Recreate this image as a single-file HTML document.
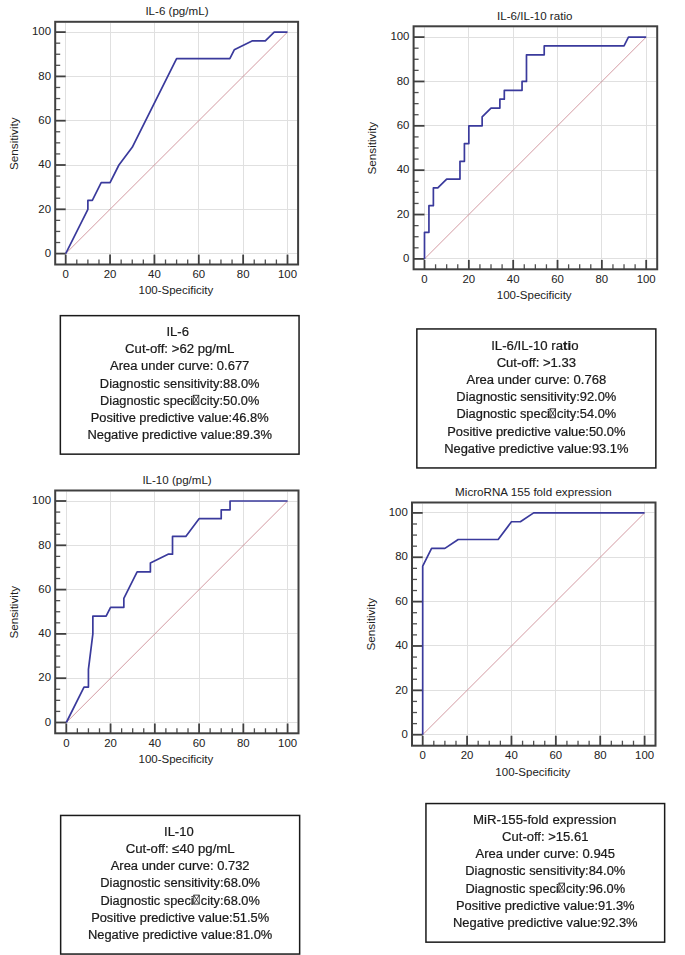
<!DOCTYPE html>
<html><head><meta charset="utf-8"><title>ROC curves</title>
<style>
html,body{margin:0;padding:0;background:#fff;}
body{width:685px;height:955px;overflow:hidden;}
svg{display:block;}
body{position:relative;}
.ov{position:absolute;left:0;top:0;will-change:transform;}
text{font-family:"Liberation Sans", sans-serif;}
.gr{stroke:#e0e0e0;stroke-width:1;}
.dg{stroke:#c8808a;stroke-width:0.8;}
.tk{stroke:#404040;stroke-width:1.8;}
.tm{stroke:#505050;stroke-width:1.3;}
.fr{fill:none;stroke:#404040;stroke-width:2;}
.cv{fill:none;stroke:#3a3a9c;stroke-width:1.7;stroke-linejoin:round;}
.tl{font-size:11.4px;fill:#222;}
.at{font-size:11.7px;fill:#222;}
.bx{fill:none;stroke:#1a1a1a;stroke-width:1.5;}
.bt{font-size:12.5px;fill:#1a1a1a;stroke:#1a1a1a;stroke-width:0.22px;}
.ph{fill:none;stroke:none;}
.gb{fill:none;stroke:#222;stroke-width:0.85;}
</style></head>
<body>
<svg width="685" height="955" viewBox="0 0 685 955">
<rect width="685" height="955" fill="#fff"/>
<g>
<line x1="65.5" y1="22.8" x2="65.5" y2="263.5" class="gr"/>
<line x1="56.2" y1="253.5" x2="297.1" y2="253.5" class="gr"/>
<line x1="110.5" y1="22.8" x2="110.5" y2="263.5" class="gr"/>
<line x1="56.2" y1="209.5" x2="297.1" y2="209.5" class="gr"/>
<line x1="154.5" y1="22.8" x2="154.5" y2="263.5" class="gr"/>
<line x1="56.2" y1="165.5" x2="297.1" y2="165.5" class="gr"/>
<line x1="198.5" y1="22.8" x2="198.5" y2="263.5" class="gr"/>
<line x1="56.2" y1="120.5" x2="297.1" y2="120.5" class="gr"/>
<line x1="243.5" y1="22.8" x2="243.5" y2="263.5" class="gr"/>
<line x1="56.2" y1="76.5" x2="297.1" y2="76.5" class="gr"/>
<line x1="287.5" y1="22.8" x2="287.5" y2="263.5" class="gr"/>
<line x1="56.2" y1="32.5" x2="297.1" y2="32.5" class="gr"/>
<line x1="65.7" y1="253.6" x2="287.5" y2="32.1" class="dg"/>
<line x1="55.2" y1="253.6" x2="65.7" y2="253.6" class="tk"/>
<line x1="65.7" y1="264.5" x2="65.7" y2="254.6" class="tk"/>
<line x1="55.2" y1="242.53" x2="60.2" y2="242.53" class="tm"/>
<line x1="76.79" y1="264.5" x2="76.79" y2="259.5" class="tm"/>
<line x1="55.2" y1="231.45" x2="60.2" y2="231.45" class="tm"/>
<line x1="87.88" y1="264.5" x2="87.88" y2="259.5" class="tm"/>
<line x1="55.2" y1="220.38" x2="60.2" y2="220.38" class="tm"/>
<line x1="98.97" y1="264.5" x2="98.97" y2="259.5" class="tm"/>
<line x1="55.2" y1="209.3" x2="65.7" y2="209.3" class="tk"/>
<line x1="110.06" y1="264.5" x2="110.06" y2="254.6" class="tk"/>
<line x1="55.2" y1="198.22" x2="60.2" y2="198.22" class="tm"/>
<line x1="121.15" y1="264.5" x2="121.15" y2="259.5" class="tm"/>
<line x1="55.2" y1="187.15" x2="60.2" y2="187.15" class="tm"/>
<line x1="132.24" y1="264.5" x2="132.24" y2="259.5" class="tm"/>
<line x1="55.2" y1="176.07" x2="60.2" y2="176.07" class="tm"/>
<line x1="143.33" y1="264.5" x2="143.33" y2="259.5" class="tm"/>
<line x1="55.2" y1="165" x2="65.7" y2="165" class="tk"/>
<line x1="154.42" y1="264.5" x2="154.42" y2="254.6" class="tk"/>
<line x1="55.2" y1="153.93" x2="60.2" y2="153.93" class="tm"/>
<line x1="165.51" y1="264.5" x2="165.51" y2="259.5" class="tm"/>
<line x1="55.2" y1="142.85" x2="60.2" y2="142.85" class="tm"/>
<line x1="176.6" y1="264.5" x2="176.6" y2="259.5" class="tm"/>
<line x1="55.2" y1="131.77" x2="60.2" y2="131.77" class="tm"/>
<line x1="187.69" y1="264.5" x2="187.69" y2="259.5" class="tm"/>
<line x1="55.2" y1="120.7" x2="65.7" y2="120.7" class="tk"/>
<line x1="198.78" y1="264.5" x2="198.78" y2="254.6" class="tk"/>
<line x1="55.2" y1="109.62" x2="60.2" y2="109.62" class="tm"/>
<line x1="209.87" y1="264.5" x2="209.87" y2="259.5" class="tm"/>
<line x1="55.2" y1="98.55" x2="60.2" y2="98.55" class="tm"/>
<line x1="220.96" y1="264.5" x2="220.96" y2="259.5" class="tm"/>
<line x1="55.2" y1="87.47" x2="60.2" y2="87.47" class="tm"/>
<line x1="232.05" y1="264.5" x2="232.05" y2="259.5" class="tm"/>
<line x1="55.2" y1="76.4" x2="65.7" y2="76.4" class="tk"/>
<line x1="243.14" y1="264.5" x2="243.14" y2="254.6" class="tk"/>
<line x1="55.2" y1="65.32" x2="60.2" y2="65.32" class="tm"/>
<line x1="254.23" y1="264.5" x2="254.23" y2="259.5" class="tm"/>
<line x1="55.2" y1="54.25" x2="60.2" y2="54.25" class="tm"/>
<line x1="265.32" y1="264.5" x2="265.32" y2="259.5" class="tm"/>
<line x1="55.2" y1="43.17" x2="60.2" y2="43.17" class="tm"/>
<line x1="276.41" y1="264.5" x2="276.41" y2="259.5" class="tm"/>
<line x1="55.2" y1="32.1" x2="65.7" y2="32.1" class="tk"/>
<line x1="287.5" y1="264.5" x2="287.5" y2="254.6" class="tk"/>
<rect x="55.2" y="21.8" width="242.9" height="242.7" class="fr"/>
<polyline points="65.7,253.6 87.88,209.3 87.88,200.44 92.32,200.44 101.19,182.72 110.06,182.72 118.93,165 132.24,147.28 176.6,58.68 229.83,58.68 234.27,49.82 252.01,40.96 265.32,40.96 274.19,32.1 287.5,32.1" class="cv"/>
<text x="51" y="256.8" text-anchor="end" class="tl">0</text>
<text x="65.7" y="277.9" text-anchor="middle" class="tl">0</text>
<text x="51" y="212.5" text-anchor="end" class="tl">20</text>
<text x="110.06" y="277.9" text-anchor="middle" class="tl">20</text>
<text x="51" y="168.2" text-anchor="end" class="tl">40</text>
<text x="154.42" y="277.9" text-anchor="middle" class="tl">40</text>
<text x="51" y="123.9" text-anchor="end" class="tl">60</text>
<text x="198.78" y="277.9" text-anchor="middle" class="tl">60</text>
<text x="51" y="79.6" text-anchor="end" class="tl">80</text>
<text x="243.14" y="277.9" text-anchor="middle" class="tl">80</text>
<text x="51" y="35.3" text-anchor="end" class="tl">100</text>
<text x="287.5" y="277.9" text-anchor="middle" class="tl">100</text>
<text x="175.9" y="294.4" text-anchor="middle" textLength="74.8" lengthAdjust="spacingAndGlyphs" class="at">100-Specificity</text>
<text transform="translate(17.9,143.65) rotate(-90)" x="0" y="0" text-anchor="middle" textLength="52.6" lengthAdjust="spacingAndGlyphs" class="at">Sensitivity</text>
<text x="176.95" y="15" text-anchor="middle" textLength="63.1" lengthAdjust="spacingAndGlyphs" class="at">IL-6 (pg/mL)</text>
</g>
<g>
<line x1="424.5" y1="27.3" x2="424.5" y2="268.3" class="gr"/>
<line x1="414.6" y1="258.5" x2="656.2" y2="258.5" class="gr"/>
<line x1="468.5" y1="27.3" x2="468.5" y2="268.3" class="gr"/>
<line x1="414.6" y1="214.5" x2="656.2" y2="214.5" class="gr"/>
<line x1="513.5" y1="27.3" x2="513.5" y2="268.3" class="gr"/>
<line x1="414.6" y1="170.5" x2="656.2" y2="170.5" class="gr"/>
<line x1="557.5" y1="27.3" x2="557.5" y2="268.3" class="gr"/>
<line x1="414.6" y1="125.5" x2="656.2" y2="125.5" class="gr"/>
<line x1="601.5" y1="27.3" x2="601.5" y2="268.3" class="gr"/>
<line x1="414.6" y1="81.5" x2="656.2" y2="81.5" class="gr"/>
<line x1="646.5" y1="27.3" x2="646.5" y2="268.3" class="gr"/>
<line x1="414.6" y1="37.5" x2="656.2" y2="37.5" class="gr"/>
<line x1="424.5" y1="258.9" x2="646.2" y2="37.1" class="dg"/>
<line x1="413.6" y1="258.9" x2="424.5" y2="258.9" class="tk"/>
<line x1="424.5" y1="269.3" x2="424.5" y2="259.9" class="tk"/>
<line x1="413.6" y1="247.81" x2="418.6" y2="247.81" class="tm"/>
<line x1="435.58" y1="269.3" x2="435.58" y2="264.3" class="tm"/>
<line x1="413.6" y1="236.72" x2="418.6" y2="236.72" class="tm"/>
<line x1="446.67" y1="269.3" x2="446.67" y2="264.3" class="tm"/>
<line x1="413.6" y1="225.63" x2="418.6" y2="225.63" class="tm"/>
<line x1="457.75" y1="269.3" x2="457.75" y2="264.3" class="tm"/>
<line x1="413.6" y1="214.54" x2="424.5" y2="214.54" class="tk"/>
<line x1="468.84" y1="269.3" x2="468.84" y2="259.9" class="tk"/>
<line x1="413.6" y1="203.45" x2="418.6" y2="203.45" class="tm"/>
<line x1="479.93" y1="269.3" x2="479.93" y2="264.3" class="tm"/>
<line x1="413.6" y1="192.36" x2="418.6" y2="192.36" class="tm"/>
<line x1="491.01" y1="269.3" x2="491.01" y2="264.3" class="tm"/>
<line x1="413.6" y1="181.27" x2="418.6" y2="181.27" class="tm"/>
<line x1="502.1" y1="269.3" x2="502.1" y2="264.3" class="tm"/>
<line x1="413.6" y1="170.18" x2="424.5" y2="170.18" class="tk"/>
<line x1="513.18" y1="269.3" x2="513.18" y2="259.9" class="tk"/>
<line x1="413.6" y1="159.09" x2="418.6" y2="159.09" class="tm"/>
<line x1="524.26" y1="269.3" x2="524.26" y2="264.3" class="tm"/>
<line x1="413.6" y1="148" x2="418.6" y2="148" class="tm"/>
<line x1="535.35" y1="269.3" x2="535.35" y2="264.3" class="tm"/>
<line x1="413.6" y1="136.91" x2="418.6" y2="136.91" class="tm"/>
<line x1="546.44" y1="269.3" x2="546.44" y2="264.3" class="tm"/>
<line x1="413.6" y1="125.82" x2="424.5" y2="125.82" class="tk"/>
<line x1="557.52" y1="269.3" x2="557.52" y2="259.9" class="tk"/>
<line x1="413.6" y1="114.73" x2="418.6" y2="114.73" class="tm"/>
<line x1="568.61" y1="269.3" x2="568.61" y2="264.3" class="tm"/>
<line x1="413.6" y1="103.64" x2="418.6" y2="103.64" class="tm"/>
<line x1="579.69" y1="269.3" x2="579.69" y2="264.3" class="tm"/>
<line x1="413.6" y1="92.55" x2="418.6" y2="92.55" class="tm"/>
<line x1="590.78" y1="269.3" x2="590.78" y2="264.3" class="tm"/>
<line x1="413.6" y1="81.46" x2="424.5" y2="81.46" class="tk"/>
<line x1="601.86" y1="269.3" x2="601.86" y2="259.9" class="tk"/>
<line x1="413.6" y1="70.37" x2="418.6" y2="70.37" class="tm"/>
<line x1="612.95" y1="269.3" x2="612.95" y2="264.3" class="tm"/>
<line x1="413.6" y1="59.28" x2="418.6" y2="59.28" class="tm"/>
<line x1="624.03" y1="269.3" x2="624.03" y2="264.3" class="tm"/>
<line x1="413.6" y1="48.19" x2="418.6" y2="48.19" class="tm"/>
<line x1="635.12" y1="269.3" x2="635.12" y2="264.3" class="tm"/>
<line x1="413.6" y1="37.1" x2="424.5" y2="37.1" class="tk"/>
<line x1="646.2" y1="269.3" x2="646.2" y2="259.9" class="tk"/>
<rect x="413.6" y="26.3" width="243.6" height="243" class="fr"/>
<polyline points="424.5,258.9 424.5,232.28 428.93,232.28 428.93,205.67 433.37,205.67 433.37,187.92 437.8,187.92 446.67,179.05 459.97,179.05 459.97,161.31 464.41,161.31 464.41,143.56 468.84,143.56 468.84,125.82 482.14,125.82 482.14,116.95 491.01,108.08 499.88,108.08 499.88,99.2 504.31,99.2 504.31,90.33 522.05,90.33 522.05,81.46 526.48,81.46 526.48,54.84 544.22,54.84 544.22,45.97 624.03,45.97 628.46,37.1 646.2,37.1" class="cv"/>
<text x="409.4" y="262.1" text-anchor="end" class="tl">0</text>
<text x="424.5" y="282.7" text-anchor="middle" class="tl">0</text>
<text x="409.4" y="217.74" text-anchor="end" class="tl">20</text>
<text x="468.84" y="282.7" text-anchor="middle" class="tl">20</text>
<text x="409.4" y="173.38" text-anchor="end" class="tl">40</text>
<text x="513.18" y="282.7" text-anchor="middle" class="tl">40</text>
<text x="409.4" y="129.02" text-anchor="end" class="tl">60</text>
<text x="557.52" y="282.7" text-anchor="middle" class="tl">60</text>
<text x="409.4" y="84.66" text-anchor="end" class="tl">80</text>
<text x="601.86" y="282.7" text-anchor="middle" class="tl">80</text>
<text x="409.4" y="40.3" text-anchor="end" class="tl">100</text>
<text x="646.2" y="282.7" text-anchor="middle" class="tl">100</text>
<text x="534.2" y="299.2" text-anchor="middle" textLength="74.8" lengthAdjust="spacingAndGlyphs" class="at">100-Specificity</text>
<text transform="translate(376.3,148.15) rotate(-90)" x="0" y="0" text-anchor="middle" textLength="52.6" lengthAdjust="spacingAndGlyphs" class="at">Sensitivity</text>
<text x="534.75" y="19.5" text-anchor="middle" textLength="75.3" lengthAdjust="spacingAndGlyphs" class="at">IL-6/IL-10 ratio</text>
</g>
<g>
<line x1="66.5" y1="491.5" x2="66.5" y2="732.3" class="gr"/>
<line x1="56.2" y1="722.5" x2="297.5" y2="722.5" class="gr"/>
<line x1="110.5" y1="491.5" x2="110.5" y2="732.3" class="gr"/>
<line x1="56.2" y1="678.5" x2="297.5" y2="678.5" class="gr"/>
<line x1="154.5" y1="491.5" x2="154.5" y2="732.3" class="gr"/>
<line x1="56.2" y1="633.5" x2="297.5" y2="633.5" class="gr"/>
<line x1="199.5" y1="491.5" x2="199.5" y2="732.3" class="gr"/>
<line x1="56.2" y1="589.5" x2="297.5" y2="589.5" class="gr"/>
<line x1="243.5" y1="491.5" x2="243.5" y2="732.3" class="gr"/>
<line x1="56.2" y1="545.5" x2="297.5" y2="545.5" class="gr"/>
<line x1="287.5" y1="491.5" x2="287.5" y2="732.3" class="gr"/>
<line x1="56.2" y1="501.5" x2="297.5" y2="501.5" class="gr"/>
<line x1="66.3" y1="722.5" x2="287.6" y2="501" class="dg"/>
<line x1="55.2" y1="722.5" x2="66.3" y2="722.5" class="tk"/>
<line x1="66.3" y1="733.3" x2="66.3" y2="723.5" class="tk"/>
<line x1="55.2" y1="711.42" x2="60.2" y2="711.42" class="tm"/>
<line x1="77.36" y1="733.3" x2="77.36" y2="728.3" class="tm"/>
<line x1="55.2" y1="700.35" x2="60.2" y2="700.35" class="tm"/>
<line x1="88.43" y1="733.3" x2="88.43" y2="728.3" class="tm"/>
<line x1="55.2" y1="689.27" x2="60.2" y2="689.27" class="tm"/>
<line x1="99.5" y1="733.3" x2="99.5" y2="728.3" class="tm"/>
<line x1="55.2" y1="678.2" x2="66.3" y2="678.2" class="tk"/>
<line x1="110.56" y1="733.3" x2="110.56" y2="723.5" class="tk"/>
<line x1="55.2" y1="667.12" x2="60.2" y2="667.12" class="tm"/>
<line x1="121.62" y1="733.3" x2="121.62" y2="728.3" class="tm"/>
<line x1="55.2" y1="656.05" x2="60.2" y2="656.05" class="tm"/>
<line x1="132.69" y1="733.3" x2="132.69" y2="728.3" class="tm"/>
<line x1="55.2" y1="644.98" x2="60.2" y2="644.98" class="tm"/>
<line x1="143.75" y1="733.3" x2="143.75" y2="728.3" class="tm"/>
<line x1="55.2" y1="633.9" x2="66.3" y2="633.9" class="tk"/>
<line x1="154.82" y1="733.3" x2="154.82" y2="723.5" class="tk"/>
<line x1="55.2" y1="622.83" x2="60.2" y2="622.83" class="tm"/>
<line x1="165.88" y1="733.3" x2="165.88" y2="728.3" class="tm"/>
<line x1="55.2" y1="611.75" x2="60.2" y2="611.75" class="tm"/>
<line x1="176.95" y1="733.3" x2="176.95" y2="728.3" class="tm"/>
<line x1="55.2" y1="600.67" x2="60.2" y2="600.67" class="tm"/>
<line x1="188.01" y1="733.3" x2="188.01" y2="728.3" class="tm"/>
<line x1="55.2" y1="589.6" x2="66.3" y2="589.6" class="tk"/>
<line x1="199.08" y1="733.3" x2="199.08" y2="723.5" class="tk"/>
<line x1="55.2" y1="578.52" x2="60.2" y2="578.52" class="tm"/>
<line x1="210.14" y1="733.3" x2="210.14" y2="728.3" class="tm"/>
<line x1="55.2" y1="567.45" x2="60.2" y2="567.45" class="tm"/>
<line x1="221.21" y1="733.3" x2="221.21" y2="728.3" class="tm"/>
<line x1="55.2" y1="556.38" x2="60.2" y2="556.38" class="tm"/>
<line x1="232.27" y1="733.3" x2="232.27" y2="728.3" class="tm"/>
<line x1="55.2" y1="545.3" x2="66.3" y2="545.3" class="tk"/>
<line x1="243.34" y1="733.3" x2="243.34" y2="723.5" class="tk"/>
<line x1="55.2" y1="534.23" x2="60.2" y2="534.23" class="tm"/>
<line x1="254.4" y1="733.3" x2="254.4" y2="728.3" class="tm"/>
<line x1="55.2" y1="523.15" x2="60.2" y2="523.15" class="tm"/>
<line x1="265.47" y1="733.3" x2="265.47" y2="728.3" class="tm"/>
<line x1="55.2" y1="512.08" x2="60.2" y2="512.08" class="tm"/>
<line x1="276.54" y1="733.3" x2="276.54" y2="728.3" class="tm"/>
<line x1="55.2" y1="501" x2="66.3" y2="501" class="tk"/>
<line x1="287.6" y1="733.3" x2="287.6" y2="723.5" class="tk"/>
<rect x="55.2" y="490.5" width="243.3" height="242.8" class="fr"/>
<polyline points="66.3,722.5 84,687.06 88.43,687.06 88.43,669.34 92.86,633.9 92.86,616.18 106.13,616.18 110.56,607.32 123.84,607.32 123.84,598.46 137.12,571.88 150.39,571.88 150.39,563.02 168.1,554.16 172.52,554.16 172.52,536.44 185.8,536.44 199.08,518.72 221.21,518.72 221.21,509.86 230.06,509.86 230.06,501 287.6,501" class="cv"/>
<text x="51" y="725.7" text-anchor="end" class="tl">0</text>
<text x="66.3" y="746.7" text-anchor="middle" class="tl">0</text>
<text x="51" y="681.4" text-anchor="end" class="tl">20</text>
<text x="110.56" y="746.7" text-anchor="middle" class="tl">20</text>
<text x="51" y="637.1" text-anchor="end" class="tl">40</text>
<text x="154.82" y="746.7" text-anchor="middle" class="tl">40</text>
<text x="51" y="592.8" text-anchor="end" class="tl">60</text>
<text x="199.08" y="746.7" text-anchor="middle" class="tl">60</text>
<text x="51" y="548.5" text-anchor="end" class="tl">80</text>
<text x="243.34" y="746.7" text-anchor="middle" class="tl">80</text>
<text x="51" y="504.2" text-anchor="end" class="tl">100</text>
<text x="287.6" y="746.7" text-anchor="middle" class="tl">100</text>
<text x="175.9" y="763.2" text-anchor="middle" textLength="74.8" lengthAdjust="spacingAndGlyphs" class="at">100-Specificity</text>
<text transform="translate(17.9,612.3) rotate(-90)" x="0" y="0" text-anchor="middle" textLength="52.6" lengthAdjust="spacingAndGlyphs" class="at">Sensitivity</text>
<text x="177.05" y="483.7" text-anchor="middle" textLength="69.3" lengthAdjust="spacingAndGlyphs" class="at">IL-10 (pg/mL)</text>
</g>
<g>
<line x1="422.5" y1="503.5" x2="422.5" y2="744.7" class="gr"/>
<line x1="413" y1="734.5" x2="654.5" y2="734.5" class="gr"/>
<line x1="467.5" y1="503.5" x2="467.5" y2="744.7" class="gr"/>
<line x1="413" y1="690.5" x2="654.5" y2="690.5" class="gr"/>
<line x1="511.5" y1="503.5" x2="511.5" y2="744.7" class="gr"/>
<line x1="413" y1="645.5" x2="654.5" y2="645.5" class="gr"/>
<line x1="555.5" y1="503.5" x2="555.5" y2="744.7" class="gr"/>
<line x1="413" y1="601.5" x2="654.5" y2="601.5" class="gr"/>
<line x1="600.5" y1="503.5" x2="600.5" y2="744.7" class="gr"/>
<line x1="413" y1="557.5" x2="654.5" y2="557.5" class="gr"/>
<line x1="644.5" y1="503.5" x2="644.5" y2="744.7" class="gr"/>
<line x1="413" y1="512.5" x2="654.5" y2="512.5" class="gr"/>
<line x1="422.7" y1="734.7" x2="644.6" y2="512.9" class="dg"/>
<line x1="412" y1="734.7" x2="422.7" y2="734.7" class="tk"/>
<line x1="422.7" y1="745.7" x2="422.7" y2="735.7" class="tk"/>
<line x1="412" y1="723.61" x2="417" y2="723.61" class="tm"/>
<line x1="433.8" y1="745.7" x2="433.8" y2="740.7" class="tm"/>
<line x1="412" y1="712.52" x2="417" y2="712.52" class="tm"/>
<line x1="444.89" y1="745.7" x2="444.89" y2="740.7" class="tm"/>
<line x1="412" y1="701.43" x2="417" y2="701.43" class="tm"/>
<line x1="455.99" y1="745.7" x2="455.99" y2="740.7" class="tm"/>
<line x1="412" y1="690.34" x2="422.7" y2="690.34" class="tk"/>
<line x1="467.08" y1="745.7" x2="467.08" y2="735.7" class="tk"/>
<line x1="412" y1="679.25" x2="417" y2="679.25" class="tm"/>
<line x1="478.18" y1="745.7" x2="478.18" y2="740.7" class="tm"/>
<line x1="412" y1="668.16" x2="417" y2="668.16" class="tm"/>
<line x1="489.27" y1="745.7" x2="489.27" y2="740.7" class="tm"/>
<line x1="412" y1="657.07" x2="417" y2="657.07" class="tm"/>
<line x1="500.37" y1="745.7" x2="500.37" y2="740.7" class="tm"/>
<line x1="412" y1="645.98" x2="422.7" y2="645.98" class="tk"/>
<line x1="511.46" y1="745.7" x2="511.46" y2="735.7" class="tk"/>
<line x1="412" y1="634.89" x2="417" y2="634.89" class="tm"/>
<line x1="522.56" y1="745.7" x2="522.56" y2="740.7" class="tm"/>
<line x1="412" y1="623.8" x2="417" y2="623.8" class="tm"/>
<line x1="533.65" y1="745.7" x2="533.65" y2="740.7" class="tm"/>
<line x1="412" y1="612.71" x2="417" y2="612.71" class="tm"/>
<line x1="544.75" y1="745.7" x2="544.75" y2="740.7" class="tm"/>
<line x1="412" y1="601.62" x2="422.7" y2="601.62" class="tk"/>
<line x1="555.84" y1="745.7" x2="555.84" y2="735.7" class="tk"/>
<line x1="412" y1="590.53" x2="417" y2="590.53" class="tm"/>
<line x1="566.93" y1="745.7" x2="566.93" y2="740.7" class="tm"/>
<line x1="412" y1="579.44" x2="417" y2="579.44" class="tm"/>
<line x1="578.03" y1="745.7" x2="578.03" y2="740.7" class="tm"/>
<line x1="412" y1="568.35" x2="417" y2="568.35" class="tm"/>
<line x1="589.12" y1="745.7" x2="589.12" y2="740.7" class="tm"/>
<line x1="412" y1="557.26" x2="422.7" y2="557.26" class="tk"/>
<line x1="600.22" y1="745.7" x2="600.22" y2="735.7" class="tk"/>
<line x1="412" y1="546.17" x2="417" y2="546.17" class="tm"/>
<line x1="611.32" y1="745.7" x2="611.32" y2="740.7" class="tm"/>
<line x1="412" y1="535.08" x2="417" y2="535.08" class="tm"/>
<line x1="622.41" y1="745.7" x2="622.41" y2="740.7" class="tm"/>
<line x1="412" y1="523.99" x2="417" y2="523.99" class="tm"/>
<line x1="633.5" y1="745.7" x2="633.5" y2="740.7" class="tm"/>
<line x1="412" y1="512.9" x2="422.7" y2="512.9" class="tk"/>
<line x1="644.6" y1="745.7" x2="644.6" y2="735.7" class="tk"/>
<rect x="412" y="502.5" width="243.5" height="243.2" class="fr"/>
<polyline points="422.7,734.7 422.7,566.13 431.58,548.39 444.89,548.39 458.2,539.52 498.15,539.52 511.46,521.77 520.34,521.77 533.65,512.9 644.6,512.9" class="cv"/>
<text x="407.8" y="737.9" text-anchor="end" class="tl">0</text>
<text x="422.7" y="759.1" text-anchor="middle" class="tl">0</text>
<text x="407.8" y="693.54" text-anchor="end" class="tl">20</text>
<text x="467.08" y="759.1" text-anchor="middle" class="tl">20</text>
<text x="407.8" y="649.18" text-anchor="end" class="tl">40</text>
<text x="511.46" y="759.1" text-anchor="middle" class="tl">40</text>
<text x="407.8" y="604.82" text-anchor="end" class="tl">60</text>
<text x="555.84" y="759.1" text-anchor="middle" class="tl">60</text>
<text x="407.8" y="560.46" text-anchor="end" class="tl">80</text>
<text x="600.22" y="759.1" text-anchor="middle" class="tl">80</text>
<text x="407.8" y="516.1" text-anchor="end" class="tl">100</text>
<text x="644.6" y="759.1" text-anchor="middle" class="tl">100</text>
<text x="532.75" y="775.6" text-anchor="middle" textLength="74.8" lengthAdjust="spacingAndGlyphs" class="at">100-Specificity</text>
<text transform="translate(374.7,624.15) rotate(-90)" x="0" y="0" text-anchor="middle" textLength="52.6" lengthAdjust="spacingAndGlyphs" class="at">Sensitivity</text>
<text x="533.4" y="495.7" text-anchor="middle" textLength="156.6" lengthAdjust="spacingAndGlyphs" class="at">MicroRNA 155 fold expression</text>
</g>
</svg>
<svg class="ov" width="685" height="955" viewBox="0 0 685 955">
<g>
<rect x="60.35" y="315.65" width="238.7" height="138.5" class="bx"/>
<text x="177.7" y="336" text-anchor="middle" textLength="22.5" lengthAdjust="spacingAndGlyphs" class="bt">IL-6</text>
<text x="179.7" y="353.2" text-anchor="middle" textLength="109.2" lengthAdjust="spacingAndGlyphs" class="bt">Cut-off: >62 pg/mL</text>
<text x="179.7" y="370.4" text-anchor="middle" textLength="139.3" lengthAdjust="spacingAndGlyphs" class="bt">Area under curve: 0.677</text>
<text x="179.7" y="387.6" text-anchor="middle" textLength="159.7" lengthAdjust="spacingAndGlyphs" class="bt">Diagnostic sensitivity:88.0%</text>
<text x="179.7" y="404.8" text-anchor="middle" textLength="159.2" lengthAdjust="spacingAndGlyphs" class="bt">Diagnostic speci<tspan class="ph">n</tspan>city:50.0%</text>
<text x="179.7" y="422" text-anchor="middle" textLength="177.8" lengthAdjust="spacingAndGlyphs" class="bt">Positive predictive value:46.8%</text>
<text x="179.7" y="439.2" text-anchor="middle" textLength="184.6" lengthAdjust="spacingAndGlyphs" class="bt">Negative predictive value:89.3%</text>
</g>
<g>
<rect x="416.85" y="328.95" width="239" height="139" class="bx"/>
<text x="534.85" y="349.5" text-anchor="middle" textLength="87.3" lengthAdjust="spacingAndGlyphs" class="bt">IL-6/IL-10 ra<tspan font-weight="bold">ti</tspan>o</text>
<text x="536.35" y="366.7" text-anchor="middle" textLength="79.4" lengthAdjust="spacingAndGlyphs" class="bt">Cut-off: >1.33</text>
<text x="536.35" y="383.9" text-anchor="middle" textLength="139.7" lengthAdjust="spacingAndGlyphs" class="bt">Area under curve: 0.768</text>
<text x="536.35" y="401.1" text-anchor="middle" textLength="160" lengthAdjust="spacingAndGlyphs" class="bt">Diagnostic sensitivity:92.0%</text>
<text x="536.35" y="418.3" text-anchor="middle" textLength="159.7" lengthAdjust="spacingAndGlyphs" class="bt">Diagnostic speci<tspan class="ph">n</tspan>city:54.0%</text>
<text x="536.35" y="435.5" text-anchor="middle" textLength="178.2" lengthAdjust="spacingAndGlyphs" class="bt">Positive predictive value:50.0%</text>
<text x="536.35" y="452.7" text-anchor="middle" textLength="184.3" lengthAdjust="spacingAndGlyphs" class="bt">Negative predictive value:93.1%</text>
</g>
<g>
<rect x="60.65" y="815.45" width="239" height="138.6" class="bx"/>
<text x="178.85" y="835.8" text-anchor="middle" textLength="29.6" lengthAdjust="spacingAndGlyphs" class="bt">IL-10</text>
<text x="180.15" y="853" text-anchor="middle" textLength="109" lengthAdjust="spacingAndGlyphs" class="bt">Cut-off: ≤40 pg/mL</text>
<text x="180.15" y="870.2" text-anchor="middle" textLength="138.9" lengthAdjust="spacingAndGlyphs" class="bt">Area under curve: 0.732</text>
<text x="180.15" y="887.4" text-anchor="middle" textLength="159.8" lengthAdjust="spacingAndGlyphs" class="bt">Diagnostic sensitivity:68.0%</text>
<text x="180.15" y="904.6" text-anchor="middle" textLength="159.4" lengthAdjust="spacingAndGlyphs" class="bt">Diagnostic speci<tspan class="ph">n</tspan>city:68.0%</text>
<text x="180.15" y="921.8" text-anchor="middle" textLength="178" lengthAdjust="spacingAndGlyphs" class="bt">Positive predictive value:51.5%</text>
<text x="180.15" y="939" text-anchor="middle" textLength="184.4" lengthAdjust="spacingAndGlyphs" class="bt">Negative predictive value:81.0%</text>
</g>
<g>
<rect x="425.95" y="803.55" width="238.7" height="138.6" class="bx"/>
<text x="544.7" y="823.8" text-anchor="middle" textLength="143.2" lengthAdjust="spacingAndGlyphs" class="bt">MiR-155-fold expression</text>
<text x="545.3" y="841" text-anchor="middle" textLength="86.4" lengthAdjust="spacingAndGlyphs" class="bt">Cut-off: >15.61</text>
<text x="545.3" y="858.2" text-anchor="middle" textLength="139.6" lengthAdjust="spacingAndGlyphs" class="bt">Area under curve: 0.945</text>
<text x="545.3" y="875.4" text-anchor="middle" textLength="160" lengthAdjust="spacingAndGlyphs" class="bt">Diagnostic sensitivity:84.0%</text>
<text x="545.3" y="892.6" text-anchor="middle" textLength="159.6" lengthAdjust="spacingAndGlyphs" class="bt">Diagnostic speci<tspan class="ph">n</tspan>city:96.0%</text>
<text x="545.3" y="909.8" text-anchor="middle" textLength="178.6" lengthAdjust="spacingAndGlyphs" class="bt">Positive predictive value:91.3%</text>
<text x="545.3" y="927" text-anchor="middle" textLength="184.5" lengthAdjust="spacingAndGlyphs" class="bt">Negative predictive value:92.3%</text>
</g>
<g>
<rect x="193.3" y="395.3" width="5.5" height="9" class="gb"/>
<path d="M193.3,395.3L198.8,404.3M198.8,395.3L193.3,404.3" class="gb"/>
<rect x="549.99" y="408.8" width="5.5" height="9" class="gb"/>
<path d="M549.99,408.8L555.49,417.8M555.49,408.8L549.99,417.8" class="gb"/>
<rect x="193.76" y="895.1" width="5.5" height="9" class="gb"/>
<path d="M193.76,895.1L199.26,904.1M199.26,895.1L193.76,904.1" class="gb"/>
<rect x="558.93" y="883.1" width="5.5" height="9" class="gb"/>
<path d="M558.93,883.1L564.43,892.1M564.43,883.1L558.93,892.1" class="gb"/>
</g>
</svg>
</body></html>
